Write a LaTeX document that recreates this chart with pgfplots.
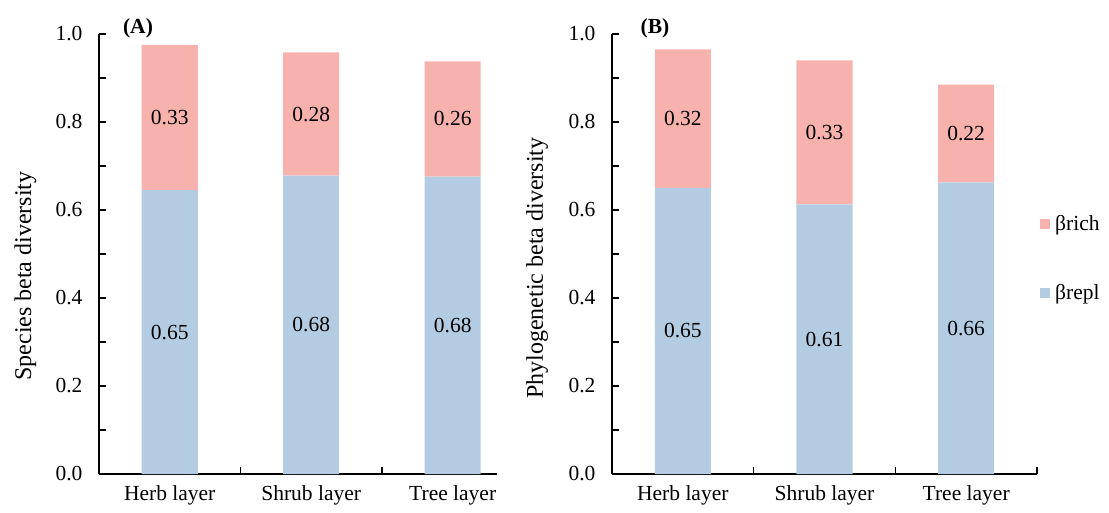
\documentclass[border=0pt]{standalone}
\usepackage{fontspec}
\setmainfont{Liberation Serif}
\usepackage{pgfplots}
\pgfplotsset{compat=1.18}
\definecolor{richc}{RGB}{248,178,174}
\definecolor{replc}{RGB}{180,204,226}
\newcommand{\fs}{\fontsize{21.5bp}{25bp}\selectfont}
\pgfplotsset{
  panel/.style={
    anchor=south west, scale only axis, height=440bp,
    ymin=0, ymax=1, clip=false,
    axis x line*=bottom, axis y line*=left,
    axis line style={-, black, line width=1.1bp},
    tick align=inside,
    major tick length=6.5bp, minor tick length=6.5bp,
    tick style={black, line width=1.1bp},
    major x tick style={draw=none},
    xtick={0,1,2}, xticklabels={Herb layer, Shrub layer, Tree layer},
    xticklabel style={yshift=-8bp},
    ytick={0,0.2,0.4,0.6,0.8,1}, minor ytick={0.1,0.3,0.5,0.7,0.9},
    yticklabel style={/pgf/number format/fixed, /pgf/number format/fixed zerofill, /pgf/number format/precision=1, xshift=-13bp},
    /pgf/number format/assume math mode=true,
    ticklabel style={font=\fs},
    ybar stacked, bar width=0.396,
  },
  lab/.style={hide axis, anchor=south west, scale only axis, height=440bp,
    ymin=0, ymax=1, clip=false},
  labplot/.style={draw=none, mark=none, nodes near coords, point meta=explicit symbolic,
    nodes near coords style={anchor=center, font=\fs, text=black}},
}
\begin{document}
\begin{tikzpicture}
\path[use as bounding box] (0,0) rectangle (1109bp,513bp);
% ---------- Panel A ----------
\begin{axis}[panel, at={(99bp,39bp)}, width=398bp, xmin=-0.5, xmax=2.313,
  minor xtick={0.5,1.5},
  ylabel={Species beta diversity},
  ylabel style={at={(axis description cs:-0.185,0.45)}, anchor=center, font=\fontsize{24bp}{27bp}\selectfont}]
\addplot[fill=replc, draw=none] coordinates {(0,0.645) (1,0.678) (2,0.676)};
\addplot[fill=richc, draw=none] coordinates {(0,0.330) (1,0.280) (2,0.262)};
\node[font=\fs\bfseries] at (axis description cs:0.098,1.012) {(A)};
\end{axis}
\begin{axis}[lab, at={(99bp,39bp)}, width=398bp, xmin=-0.5, xmax=2.313]
\addplot[labplot] coordinates {(0,0.3225)[0.65] (1,0.339)[0.68] (2,0.338)[0.68]
  (0,0.81)[0.33] (1,0.818)[0.28] (2,0.807)[0.26]};
\end{axis}
% ---------- Panel B ----------
\begin{axis}[panel, at={(612bp,39bp)}, width=425bp, xmin=-0.5, xmax=2.5,
  minor xtick={0.5,1.5,2.5},
  ylabel={Phylogenetic beta diversity},
  ylabel style={at={(axis description cs:-0.176,0.468)}, anchor=center, font=\fontsize{24bp}{27bp}\selectfont},
  reverse legend,
  legend style={at={(axis description cs:1.007,0.49)}, anchor=west, draw=none, fill=none,
    inner sep=0pt, row sep=52bp, font=\fs, nodes={inner sep=0pt},
    /tikz/every odd column/.append style={column sep=5bp}},
  legend cell align=left,
  legend image code/.code={\fill[#1] (0bp,-5bp) rectangle (10bp,5bp);}]
\addplot[fill=replc, draw=none] coordinates {(0,0.650) (1,0.613) (2,0.663)};
\addlegendentry{βrepl}
\addplot[fill=richc, draw=none] coordinates {(0,0.315) (1,0.327) (2,0.222)};
\addlegendentry{βrich}
\node[font=\fs\bfseries] at (axis description cs:0.101,1.012) {(B)};
\end{axis}
\begin{axis}[lab, at={(612bp,39bp)}, width=425bp, xmin=-0.5, xmax=2.5]
\addplot[labplot] coordinates {(0,0.325)[0.65] (1,0.3065)[0.61] (2,0.3315)[0.66]
  (0,0.8075)[0.32] (1,0.7765)[0.33] (2,0.774)[0.22]};
\end{axis}
\end{tikzpicture}
\end{document}
